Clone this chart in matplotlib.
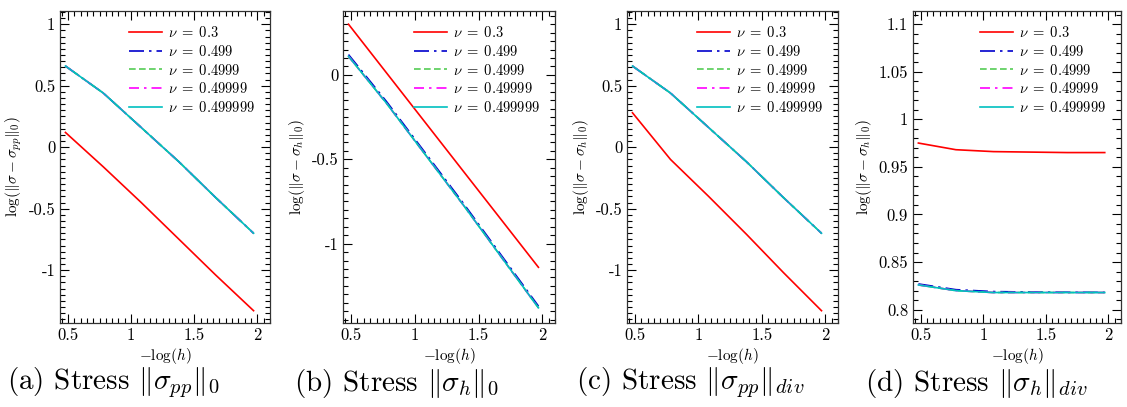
import matplotlib
matplotlib.use("Agg")
import matplotlib.pyplot as plt
from matplotlib.ticker import MultipleLocator, FuncFormatter

plt.rcParams['font.family'] = ['cmr10', 'DejaVu Serif']
plt.rcParams['mathtext.fontset'] = 'cm'
plt.rcParams['axes.unicode_minus'] = False

# -log(h)
x = [0.48, 0.78, 1.08, 1.38, 1.67, 1.97]

nu_labels = [r'$\nu \;=\; 0.3$', r'$\nu \;=\; 0.499$', r'$\nu \;=\; 0.4999$',
             r'$\nu \;=\; 0.49999$', r'$\nu \;=\; 0.499999$']

# (a) stress sigma_pp, L2 norm
a_03 = [0.12, -0.16, -0.45, -0.75, -1.04, -1.33]
a_inc = [0.66, 0.44, 0.16, -0.12, -0.41, -0.70]
# (b) stress sigma_h, L2 norm
b_03 = [0.30, 0.01, -0.28, -0.57, -0.85, -1.14]
b_499 = [0.12, -0.16, -0.46, -0.76, -1.06, -1.37]
b_inc = [0.11, -0.17, -0.47, -0.77, -1.07, -1.38]
# (c) stress sigma_pp, div norm
c_03 = [0.28, -0.10, -0.40, -0.71, -1.02, -1.33]
c_inc = [0.66, 0.44, 0.16, -0.12, -0.41, -0.70]
# (d) stress sigma_h, div norm
d_03 = [0.975, 0.968, 0.966, 0.9655, 0.965, 0.965]
d_499 = [0.827, 0.821, 0.819, 0.8185, 0.8183, 0.8182]
d_inc = [0.826, 0.820, 0.818, 0.818, 0.818, 0.818]

panels = [
    ([a_03, a_inc, a_inc, a_inc, a_inc], r'$\log(\|\sigma-\sigma_{pp}\|_0)$',
     (-1.43, 1.11), 0.5, 0.05, r'(a) Stress $\|\sigma_{pp}\|_0$'),
    ([b_03, b_499, b_inc, b_inc, b_inc], r'$\log(\|\sigma-\sigma_h\|_0)$',
     (-1.47, 0.38), 0.5, 0.05, r'(b) Stress $\|\sigma_h\|_0$'),
    ([c_03, c_inc, c_inc, c_inc, c_inc], r'$\log(\|\sigma-\sigma_h\|_0)$',
     (-1.43, 1.11), 0.5, 0.05, r'(c) Stress $\|\sigma_{pp}\|_{div}$'),
    ([d_03, d_499, d_inc, d_inc, d_inc], r'$\log(\|\sigma-\sigma_h\|_0)$',
     (0.786, 1.114), 0.05, 0.01, r'(d) Stress $\|\sigma_h\|_{div}$'),
]

colors = ['#ff0000', '#0000cc', '#55cc55', '#ff00ff', '#00c0c0']
styles = ['-', (0, (9, 3, 1.5, 3)), (0, (4, 2)), (0, (6, 3, 1.5, 3)), '-']

W, H = 1127, 407
lefts = [60, 343, 627, 913]
rights = [270, 555, 838, 1121]
top, bottom = 10.7, 323
caption_x = [113, 397, 690, 976]

fig = plt.figure(figsize=(W / 100, H / 100), dpi=100)

for i, (series, ylab, ylim, major, minor, cap) in enumerate(panels):
    ax = fig.add_axes([lefts[i] / W, (H - bottom) / H,
                       (rights[i] - lefts[i]) / W, (bottom - top) / H])
    for y, c, ls, lab in zip(series, colors, styles, nu_labels):
        ax.plot(x, y, color=c, linestyle=ls, linewidth=1.2, label=lab)
    ax.set_xlim(0.437, 2.10)
    ax.set_ylim(*ylim)
    ax.xaxis.set_major_locator(MultipleLocator(0.5))
    ax.xaxis.set_minor_locator(MultipleLocator(0.05))
    ax.yaxis.set_major_locator(MultipleLocator(major))
    ax.yaxis.set_minor_locator(MultipleLocator(minor))
    fmt = FuncFormatter(lambda v, p: '%g' % round(v, 6))
    ax.xaxis.set_major_formatter(fmt)
    ax.yaxis.set_major_formatter(fmt)
    ax.tick_params(which='both', direction='in', top=True, right=True,
                   labelsize=12, width=0.8)
    ax.tick_params(which='major', length=6.5)
    ax.tick_params(which='minor', length=3.5)
    for s in ax.spines.values():
        s.set_linewidth(0.9)
        s.set_color('#333333')
    ax.set_xlabel(r'$-\log(h)$', fontsize=11, labelpad=2)
    ax.set_ylabel(ylab, fontsize=11, labelpad=3)
    ax.legend(loc='upper right', frameon=False, fontsize=10.5,
              handlelength=2.3, labelspacing=0.25, borderaxespad=0.6,
              handletextpad=0.4)
    fig.text(caption_x[i] / W, (H - 383) / H, cap, fontsize=21,
             ha='center', va='center')

fig.savefig('out.png', dpi=100)
